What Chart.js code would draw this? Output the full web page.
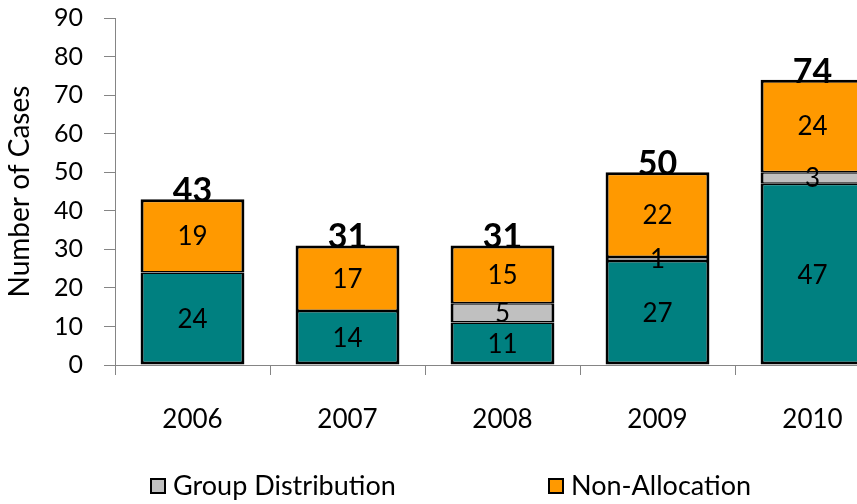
<!DOCTYPE html>
<html>
<head>
<meta charset="utf-8">
<script src="https://cdn.jsdelivr.net/npm/chart.js@4.4.1/dist/chart.umd.min.js"></script>
<style>
  html, body { margin: 0; padding: 0; background: #fff; overflow: hidden; }
  #wrap { position: relative; width: 900px; height: 504px; }
</style>
</head>
<body>
<div id="wrap"><canvas id="c"></canvas></div>
<script>
// ---- data ----
const years = ['2006', '2007', '2008', '2009', '2010'];
const individualAllocation = [24, 14, 11, 27, 47];
const groupDistribution = [0, 0, 5, 1, 3];
const nonAllocation = [19, 17, 15, 22, 24];
const totals = [43, 31, 31, 50, 74];
const yTicks = [0, 10, 20, 30, 40, 50, 60, 70, 80, 90];
const seriesNames = ['Individual Allocation', 'Group Distribution', 'Non-Allocation'];

const FONT = 'Lato, "Open Sans", sans-serif';
const AXIS_COLOR = '#858585';

const labelPlugin = {
  id: 'segmentLabels',
  afterDatasetsDraw(chart) {
    const ctx = chart.ctx;
    ctx.save();
    ctx.fillStyle = '#000';
    ctx.textAlign = 'center';
    ctx.font = '26px ' + FONT;
    ctx.textBaseline = 'middle';
    chart.data.datasets.forEach((ds, di) => {
      const meta = chart.getDatasetMeta(di);
      meta.data.forEach((el, i) => {
        const v = ds.data[i];
        if (!v) return;
        const cy = (el.y + el.base) / 2;
        ctx.fillText(String(v), el.x, cy + 1);
      });
    });
    ctx.font = 'bold 34px ' + FONT;
    ctx.textBaseline = 'alphabetic';
    const meta0 = chart.getDatasetMeta(0);
    totals.forEach((t, i) => {
      const x = meta0.data[i].x;
      const y = chart.scales.y.getPixelForValue(t);
      ctx.fillText(String(t), x, y + 3);
    });
    ctx.restore();
  }
};

const legendPlugin = {
  id: 'bottomLegend',
  afterDraw(chart) {
    const ctx = chart.ctx;
    const items = [
      { idx: 1, x: 150 },
      { idx: 2, x: 548 }
    ];
    ctx.save();
    ctx.font = '27px ' + FONT;
    ctx.textBaseline = 'middle';
    ctx.textAlign = 'left';
    items.forEach(it => {
      const ds = chart.data.datasets[it.idx];
      const y = 486;
      ctx.fillStyle = ds.backgroundColor;
      ctx.fillRect(it.x, y - 8, 16, 16);
      ctx.lineWidth = 2;
      ctx.strokeStyle = '#000';
      ctx.strokeRect(it.x + 1, y - 7, 14, 14);
      ctx.fillStyle = '#000';
      ctx.fillText(ds.label, it.x + 23, y);
    });
    ctx.restore();
  }
};

// border: thick outside, thin at internal boundaries, none on empty segments
function segBorder(c) {
  const v = c.raw;
  if (!v) return 0;
  const di = c.datasetIndex, i = c.dataIndex;
  const sets = c.chart.data.datasets;
  let isTop = true, isBottom = true;
  sets.forEach((ds, k) => {
    if (ds.data[i]) {
      if (k > di) isTop = false;
      if (k < di) isBottom = false;
    }
  });
  return { left: 3, right: 3, top: isTop ? 3 : 1.5, bottom: isBottom ? 3 : 1.5 };
}

const common = {
  borderColor: '#000',
  borderWidth: segBorder,
  borderSkipped: false,
  categoryPercentage: 1.0,
  barPercentage: 0.67
};

new Chart(document.getElementById('c'), {
  type: 'bar',
  data: {
    labels: years,
    datasets: [
      Object.assign({ label: seriesNames[0], data: individualAllocation, backgroundColor: '#008080' }, common),
      Object.assign({ label: seriesNames[1], data: groupDistribution, backgroundColor: '#C0C0C0' }, common),
      Object.assign({ label: seriesNames[2], data: nonAllocation, backgroundColor: '#FF9900' }, common)
    ]
  },
  options: {
    responsive: true,
    maintainAspectRatio: false,
    animation: false,
    devicePixelRatio: 1,
    layout: { padding: { top: 18, right: 10, left: 0, bottom: 0 } },
    plugins: {
      legend: { display: false },
      tooltip: { enabled: false }
    },
    scales: {
      x: {
        stacked: true,
        offset: true,
        grid: { offset: true, drawOnChartArea: false, drawTicks: true, tickLength: 10, color: AXIS_COLOR },
        border: { display: true, color: AXIS_COLOR, width: 1 },
        ticks: { font: { family: FONT, size: 26 }, color: '#000', padding: 29, maxRotation: 0 },
        afterFit(scale) { scale.height = 139; }
      },
      y: {
        stacked: true,
        min: yTicks[0],
        max: yTicks[yTicks.length - 1],
        afterBuildTicks(scale) { scale.ticks = yTicks.map(v => ({ value: v })); },
        grid: { drawOnChartArea: false, drawTicks: true, tickLength: 11, color: AXIS_COLOR },
        border: { display: true, color: AXIS_COLOR, width: 1 },
        ticks: { font: { family: FONT, size: 25 }, color: '#000', padding: 21 },
        title: { display: true, text: 'Number of Cases', font: { family: FONT, size: 28 }, color: '#000', padding: { top: 3, bottom: 0 } },
        afterFit(scale) { scale.width = 115; scale.paddingTop = 0; scale.paddingBottom = 0; }
      }
    }
  },
  plugins: [labelPlugin, legendPlugin]
});
</script>
</body>
</html>
